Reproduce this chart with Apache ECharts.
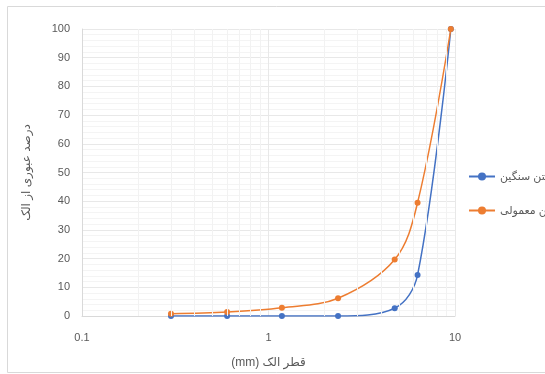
<!DOCTYPE html>
<html>
<head>
<meta charset="utf-8">
<script src="https://cdn.jsdelivr.net/npm/echarts@6/dist/echarts.min.js"></script>
<style>
  html, body { margin: 0; padding: 0; background: #fff; }
  #chart { width: 545px; height: 374px; }
</style>
</head>
<body>
<div id="chart"></div>
<script>
// sieve sizes (mm) and passing percentages
const sieveSizes = [0.3, 0.6, 1.18, 2.36, 4.75, 6.3, 9.5];
const heavyConcrete = [0, 0, 0, 0, 2.7, 14.3, 100];
const normalConcrete = [0.8, 1.4, 2.9, 6.2, 19.7, 39.5, 100];
const seriesNames = ['بتن سنگین', 'بتن معمولی'];
const xMinorLines = [0.2, 0.3, 0.4, 0.5, 0.6, 0.7, 0.8, 0.9, 2, 3, 4, 5, 6, 7, 8, 9];

const font = "'Liberation Sans', 'DejaVu Sans', sans-serif";
const toPairs = (ys) => sieveSizes.map((x, i) => [x, ys[i]]);
const axisTitleStyle = { fontSize: 12, color: '#595959', fontFamily: font };

const chart = echarts.init(document.getElementById('chart'));

const option = {
  animation: false,
  textStyle: { fontFamily: font },
  graphic: [{
    type: 'rect',
    shape: { x: 7.5, y: 6.5, width: 600, height: 366 },
    style: { fill: 'none', stroke: '#d9d9d9', lineWidth: 1 },
    silent: true
  }],
  grid: { left: 82, right: 90, top: 29, bottom: 56 },
  legend: {
    orient: 'vertical',
    left: 463,
    top: 166,
    itemGap: 23,
    itemWidth: 26,
    itemHeight: 10,
    data: seriesNames,
    textStyle: { fontSize: 11, color: '#595959', fontFamily: font }
  },
  xAxis: {
    type: 'log',
    logBase: 10,
    min: 0.1,
    max: 10,
    // rich segments keep "(mm)" on the left, as in the picture
    name: '{u|(mm)} {t|قطر الک}',
    nameLocation: 'middle',
    nameGap: 41,
    nameTextStyle: Object.assign({}, axisTitleStyle, {
      rich: { u: axisTitleStyle, t: axisTitleStyle }
    }),
    axisLine: { show: true, lineStyle: { color: '#d9d9d9' } },
    axisTick: { show: false },
    axisLabel: { color: '#595959', fontSize: 11, margin: 16,
      formatter: (v) => String(v) },
    splitLine: { show: true, lineStyle: { color: '#e8e8e8' } }
  },
  yAxis: {
    type: 'value',
    min: 0,
    max: 100,
    interval: 10,
    name: 'درصد عبوری از الک',
    nameLocation: 'middle',
    nameGap: 49,
    nameTextStyle: axisTitleStyle,
    axisLine: { show: true, lineStyle: { color: '#d9d9d9' } },
    axisTick: { show: false },
    axisLabel: { color: '#595959', fontSize: 11, margin: 12 },
    splitLine: { show: true, lineStyle: { color: '#e8e8e8' } },
    minorTick: { show: false, splitNumber: 5 },
    minorSplitLine: { show: true, lineStyle: { color: '#f4f4f4' } }
  },
  series: [
    {
      name: seriesNames[0],
      type: 'line',
      data: toPairs(heavyConcrete),
      smooth: 0.35,
      symbol: 'circle',
      symbolSize: 6,
      itemStyle: { color: '#4472C4' },
      lineStyle: { width: 1.5, color: '#4472C4' },
      markLine: {
        silent: true,
        symbol: 'none',
        label: { show: false },
        lineStyle: { color: '#f2f2f2', type: 'solid', width: 1 },
        data: xMinorLines.map((v) => ({ xAxis: v }))
      },
      z: 3
    },
    {
      name: seriesNames[1],
      type: 'line',
      data: toPairs(normalConcrete),
      smooth: 0.35,
      symbol: 'circle',
      symbolSize: 6,
      itemStyle: { color: '#ED7D31' },
      lineStyle: { width: 1.5, color: '#ED7D31' },
      z: 4
    }
  ]
};

chart.setOption(option);
</script>
</body>
</html>
